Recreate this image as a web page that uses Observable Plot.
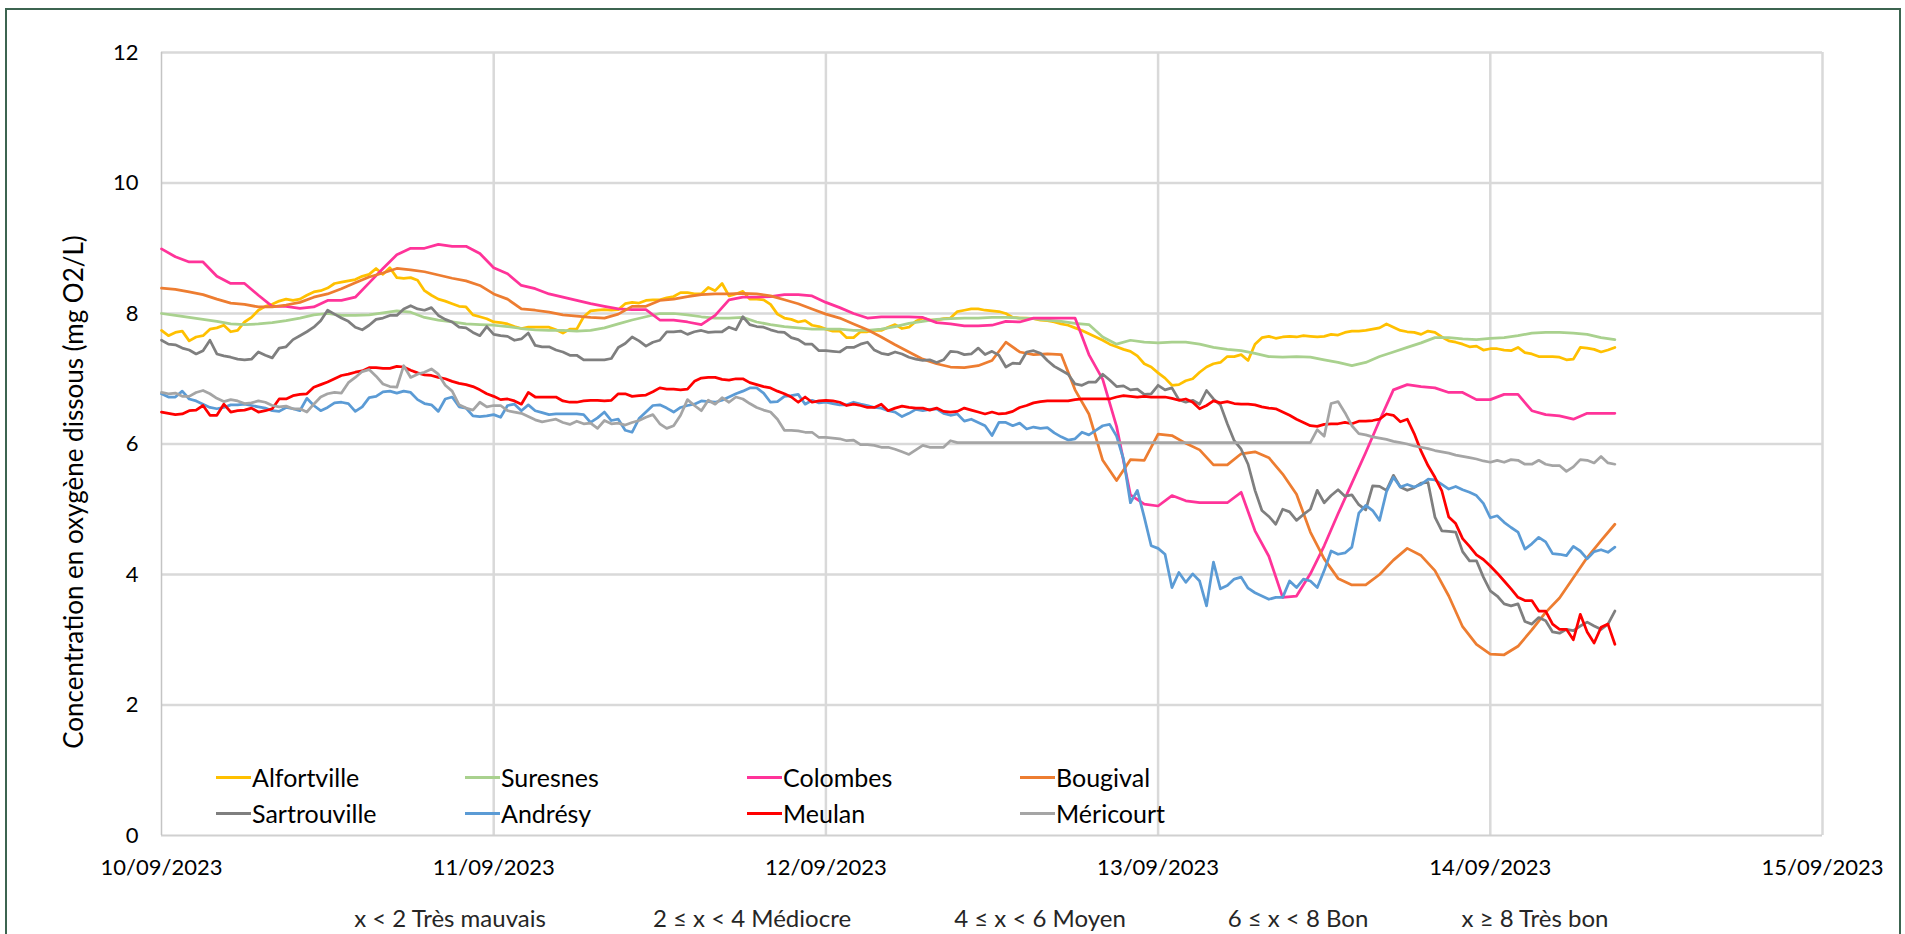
<!DOCTYPE html>
<html><head><meta charset="utf-8">
<script src="https://cdn.jsdelivr.net/npm/d3@7"></script>
<script src="https://cdn.jsdelivr.net/npm/@observablehq/plot@0.6"></script>
<style>
html,body{margin:0;padding:0;background:#fff;overflow:hidden}
#wrap{position:relative;width:1905px;height:934px;font-family:Lato,sans-serif;color:#000}
#frame{position:absolute;left:5px;top:8px;width:1896px;height:1000px;border:2px solid #3c6450;box-sizing:border-box}
#chart{position:absolute;left:0;top:0}
.ytitle{position:absolute;left:73px;top:492px;transform:translate(-50%,-50%) rotate(-90deg);white-space:nowrap;font-size:26px}
.leg{position:absolute;display:flex;align-items:center;font-size:25px;transform:translateY(-50%);white-space:nowrap}
.leg .sw{width:35px;height:3px;margin-right:1px}
.q{position:absolute;transform:translate(-50%,-50%);font-size:24px;color:#262626;white-space:nowrap}
</style></head><body>
<div id="wrap"><div id="frame"></div><div id="chart"></div></div>
<script>
// time axis: hours after 10/09/2023 00:00 (hourly readings, plus half-hour readings for the noisiest stations)
const hours = d3.range(0, 106);
const halfHours = d3.range(0, 105).map(h => h + 0.5);
const names = ["Alfortville","Suresnes","Colombes","Bougival","Sartrouville","Andrésy","Meulan","Méricourt"];
const colors = ["#FFC000","#A9D18E","#FF3399","#ED7D31","#7F7F7F","#5B9BD5","#FF0000","#A5A5A5"];
const yTicks = [0,2,4,6,8,10,12];
const xTickLabels = ["10/09/2023","11/09/2023","12/09/2023","13/09/2023","14/09/2023","15/09/2023"];
const qualityLabels = ["x < 2 Très mauvais","2 ≤ x < 4 Médiocre","4 ≤ x < 6 Moyen","6 ≤ x < 8 Bon","x ≥ 8 Très bon"];

const alfortville = [7.74,7.71,7.58,7.66,7.78,7.72,7.87,8.05,8.14,8.22,8.22,8.33,8.39,8.48,8.52,8.6,8.6,8.55,8.55,8.35,8.22,8.15,8.1,7.95,7.87,
 7.84,7.77,7.79,7.79,7.7,7.76,8.04,8.06,8.06,8.17,8.2,8.21,8.26,8.32,8.3,8.35,8.27,8.34,8.22,8.14,7.93,7.87,7.82,7.76,
 7.73,7.63,7.72,7.74,7.83,7.79,7.93,7.9,7.93,8.05,8.07,8.04,8.0,7.93,7.92,7.89,7.84,7.78,7.69,7.59,7.49,7.42,7.23,7.09,
 6.9,6.97,7.1,7.23,7.34,7.37,7.53,7.65,7.64,7.64,7.65,7.65,7.67,7.73,7.74,7.78,7.79,7.72,7.68,7.71,7.58,7.53,7.5,7.46,
 7.44,7.48,7.38,7.34,7.33,7.3,7.47,7.41,7.48];
const alfortvilleMid = [7.66,7.73,7.64,7.76,7.82,7.74,7.94,8.11,8.19,8.2,8.28,8.35,8.46,8.5,8.57,8.69,8.7,8.54,8.51,8.28,8.19,8.11,7.98,7.92,
 7.86,7.8,7.79,7.79,7.75,7.76,7.95,8.05,8.05,8.15,8.16,8.21,8.24,8.32,8.3,8.4,8.46,8.3,8.22,8.21,7.99,7.91,7.89,7.8,
 7.73,7.63,7.72,7.74,7.79,7.77,7.88,7.9,7.92,8.03,8.07,8.05,8.03,7.94,7.93,7.9,7.87,7.82,7.74,7.64,7.53,7.45,7.35,7.18,
 7.01,6.91,7.0,7.18,7.25,7.34,7.28,7.63,7.62,7.65,7.66,7.64,7.68,7.71,7.73,7.76,7.84,7.74,7.71,7.73,7.64,7.56,7.49,
 7.44,7.46,7.43,7.4,7.34,7.34,7.29,7.48,7.45,7.44];
const suresnes = [8.0,7.97,7.94,7.91,7.88,7.84,7.83,7.84,7.86,7.89,7.93,7.98,8.0,7.97,7.97,7.98,8.01,8.04,8.02,7.94,7.9,7.87,7.84,7.83,7.82,
 7.8,7.77,7.75,7.74,7.74,7.73,7.74,7.78,7.84,7.9,7.95,8.0,8.0,7.98,7.95,7.93,7.93,7.94,7.87,7.83,7.8,7.78,7.76,7.76,
 7.76,7.74,7.74,7.76,7.8,7.85,7.88,7.91,7.92,7.93,7.93,7.94,7.94,7.93,7.92,7.9,7.88,7.85,7.83,7.64,7.53,7.59,7.56,7.55,
 7.56,7.56,7.53,7.48,7.45,7.43,7.39,7.34,7.33,7.34,7.33,7.29,7.25,7.2,7.25,7.34,7.41,7.48,7.55,7.63,7.63,7.61,7.6,7.62,
 7.63,7.66,7.7,7.71,7.71,7.7,7.68,7.63,7.6];
const colombes = [8.99,8.87,8.79,8.79,8.57,8.46,8.46,8.28,8.11,8.11,8.08,8.1,8.2,8.2,8.25,8.47,8.69,8.9,9.0,9.0,9.06,9.03,9.03,8.92,8.7,
 8.61,8.43,8.38,8.3,8.25,8.2,8.15,8.11,8.07,8.06,8.06,7.9,7.9,7.87,7.83,7.97,8.21,8.25,8.25,8.26,8.29,8.29,8.27,8.17,
 8.09,8.0,7.93,7.95,7.95,7.95,7.94,7.86,7.84,7.81,7.81,7.82,7.88,7.87,7.93,7.93,7.93,7.93,7.37,6.99,6.27,5.22,5.08,5.05,
 5.21,5.13,5.1,5.1,5.1,5.26,4.67,4.28,3.65,3.67,4.01,4.44,4.93,5.4,5.87,6.36,6.83,6.91,6.88,6.86,6.79,6.79,6.68,6.68,
 6.76,6.76,6.51,6.45,6.43,6.38,6.47,6.47,6.47];
const bougival = [8.39,8.37,8.33,8.29,8.22,8.16,8.14,8.1,8.1,8.13,8.17,8.25,8.3,8.38,8.47,8.56,8.62,8.69,8.67,8.64,8.59,8.54,8.5,8.43,8.3,
 8.22,8.07,8.05,8.02,7.98,7.96,7.94,7.93,7.99,8.11,8.11,8.2,8.22,8.26,8.29,8.3,8.3,8.31,8.3,8.27,8.21,8.15,8.07,7.99,
 7.93,7.84,7.75,7.64,7.52,7.41,7.3,7.23,7.18,7.17,7.2,7.28,7.56,7.41,7.37,7.38,7.37,6.83,6.46,5.75,5.44,5.76,5.75,6.15,
 6.13,6.01,5.91,5.68,5.68,5.85,5.88,5.79,5.54,5.23,4.65,4.24,3.94,3.84,3.84,4.0,4.22,4.4,4.29,4.06,3.67,3.2,2.93,2.78,
 2.77,2.9,3.15,3.42,3.64,3.95,4.26,4.52,4.77];
const sartrouville = [7.59,7.52,7.44,7.43,7.38,7.33,7.29,7.41,7.32,7.49,7.66,7.79,8.05,7.93,7.79,7.82,7.93,7.97,8.12,8.05,7.97,7.87,7.78,7.66,7.68,
 7.65,7.61,7.51,7.49,7.41,7.36,7.29,7.29,7.48,7.64,7.5,7.59,7.72,7.68,7.74,7.72,7.79,7.95,7.8,7.75,7.71,7.6,7.53,7.43,
 7.41,7.48,7.56,7.39,7.41,7.33,7.28,7.25,7.42,7.37,7.47,7.42,7.18,7.23,7.43,7.28,7.13,6.92,6.95,7.07,6.88,6.83,6.76,6.9,
 6.86,6.64,6.61,6.69,6.31,5.92,5.29,4.89,5.0,4.83,5.0,5.1,5.3,5.22,4.99,5.35,5.52,5.29,5.4,4.88,4.66,4.35,4.21,3.75,
 3.55,3.55,3.24,3.29,3.1,3.14,3.27,3.16,3.44];
const sartrouvilleMid = [7.53,7.47,7.38,7.59,7.35,7.3,7.3,7.36,7.47,7.6,7.72,7.89,7.99,7.88,7.75,7.91,7.97,8.07,8.07,8.09,7.91,7.79,7.71,7.8,
 7.66,7.59,7.7,7.49,7.44,7.36,7.29,7.29,7.31,7.54,7.58,7.56,7.72,7.73,7.72,7.71,7.72,7.75,7.83,7.79,7.72,7.63,7.53,7.43,
 7.42,7.48,7.53,7.44,7.37,7.38,7.3,7.29,7.29,7.41,7.38,7.37,7.36,7.24,7.41,7.39,7.19,7.07,6.9,6.95,6.98,6.89,6.84,6.77,
 6.83,6.68,6.67,6.82,6.6,6.05,5.69,4.98,4.77,4.96,4.92,5.29,5.21,5.2,5.07,5.36,5.29,5.34,5.33,5.41,4.67,4.65,4.21,
 3.96,3.67,3.52,3.28,3.34,3.12,3.16,3.21,3.21,3.24];
const andresy = [6.77,6.72,6.69,6.61,6.54,6.6,6.61,6.57,6.51,6.56,6.51,6.59,6.56,6.64,6.5,6.71,6.8,6.78,6.79,6.62,6.5,6.72,6.55,6.42,6.45,
 6.59,6.51,6.51,6.45,6.46,6.46,6.33,6.49,6.38,6.18,6.49,6.6,6.49,6.59,6.66,6.64,6.72,6.81,6.86,6.64,6.73,6.76,6.67,6.64,
 6.6,6.64,6.59,6.55,6.49,6.47,6.51,6.54,6.44,6.35,6.33,6.13,6.33,6.32,6.26,6.25,6.11,6.08,6.14,6.28,6.12,5.1,4.88,4.4,
 3.8,3.88,3.9,4.19,3.83,3.96,3.72,3.62,3.65,3.8,3.9,4.06,4.31,4.42,5.06,4.83,5.49,5.38,5.38,5.45,5.31,5.3,5.21,4.87,
 4.8,4.65,4.47,4.5,4.31,4.43,4.24,4.38,4.42];
const andresyMid = [6.72,6.81,6.66,6.56,6.56,6.6,6.59,6.55,6.5,6.54,6.7,6.51,6.63,6.62,6.57,6.73,6.81,6.81,6.68,6.6,6.69,6.57,6.43,6.43,
 6.41,6.61,6.6,6.48,6.46,6.46,6.45,6.4,6.36,6.21,6.39,6.59,6.55,6.56,6.61,6.65,6.67,6.77,6.86,6.78,6.65,6.74,6.61,6.63,
 6.62,6.6,6.61,6.56,6.51,6.42,6.53,6.53,6.47,6.46,6.38,6.28,6.33,6.28,6.23,6.24,6.17,6.06,6.18,6.21,6.3,5.77,5.29,4.44,
 4.31,4.03,4.01,3.52,3.78,3.93,3.79,3.67,3.65,3.9,3.93,3.8,4.36,4.33,4.94,4.98,5.27,5.34,5.34,5.46,5.38,5.35,5.26,
 5.09,4.9,4.72,4.39,4.57,4.32,4.29,4.36,4.35,4.34];
const meulan = [6.49,6.45,6.51,6.59,6.44,6.49,6.52,6.49,6.54,6.69,6.76,6.87,6.95,7.05,7.1,7.17,7.16,7.19,7.13,7.06,7.02,6.96,6.91,6.83,6.73,
 6.69,6.61,6.72,6.72,6.66,6.64,6.67,6.66,6.77,6.73,6.75,6.86,6.84,6.84,7.01,7.02,6.98,7.0,6.91,6.86,6.77,6.64,6.64,6.67,
 6.64,6.61,6.56,6.61,6.55,6.56,6.55,6.55,6.49,6.55,6.49,6.49,6.47,6.56,6.63,6.66,6.66,6.68,6.69,6.69,6.72,6.73,6.73,6.72,
 6.7,6.69,6.54,6.66,6.65,6.61,6.6,6.55,6.49,6.38,6.28,6.3,6.31,6.31,6.35,6.38,6.44,6.38,5.89,5.49,4.88,4.55,4.3,4.13,
 3.9,3.65,3.6,3.44,3.16,3.0,3.12,3.19,2.93];
const meulanMid = [6.47,6.46,6.52,6.44,6.61,6.51,6.55,6.51,6.69,6.74,6.77,6.91,7.0,7.07,7.12,7.17,7.16,7.18,7.09,7.05,7.0,6.93,6.88,6.77,
 6.68,6.66,6.79,6.72,6.72,6.64,6.66,6.67,6.67,6.77,6.74,6.8,6.84,6.83,6.96,7.02,6.99,7.0,6.94,6.88,6.81,6.72,6.72,6.66,
 6.66,6.59,6.59,6.56,6.51,6.58,6.55,6.52,6.5,6.5,6.52,6.46,6.46,6.5,6.59,6.65,6.66,6.66,6.69,6.69,6.69,6.74,6.72,6.72,
 6.72,6.67,6.64,6.59,6.63,6.62,6.61,6.57,6.54,6.44,6.33,6.27,6.31,6.33,6.35,6.36,6.46,6.34,6.16,5.67,5.28,4.78,4.43,
 4.23,4.02,3.78,3.6,3.44,3.24,3.16,3.39,2.95,3.24];
const mericourt = [6.79,6.78,6.73,6.82,6.7,6.68,6.62,6.66,6.59,6.58,6.54,6.61,6.77,6.78,7.02,7.14,6.92,6.87,7.02,7.1,7.07,6.81,6.55,6.64,6.59,
 6.51,6.47,6.37,6.36,6.33,6.35,6.32,6.36,6.32,6.33,6.41,6.31,6.28,6.68,6.51,6.61,6.64,6.69,6.56,6.49,6.21,6.2,6.18,6.1,
 6.08,6.06,5.99,5.95,5.92,5.84,5.98,5.95,6.05,6.02,6.02,6.02,6.02,6.02,6.02,6.02,6.02,6.02,6.02,6.02,6.02,6.02,6.02,6.02,
 6.02,6.02,6.02,6.02,6.02,6.02,6.02,6.02,6.02,6.02,6.02,6.12,6.65,6.28,6.14,6.09,6.04,6.0,5.95,5.9,5.86,5.81,5.77,5.72,
 5.72,5.75,5.69,5.69,5.67,5.65,5.75,5.81,5.69];
const mericourtMid = [6.77,6.73,6.79,6.77,6.65,6.66,6.63,6.64,6.57,6.54,6.49,6.72,6.79,6.94,7.11,7.04,6.88,7.2,7.07,7.15,6.9,6.6,6.52,6.57,
 6.59,6.49,6.42,6.34,6.38,6.3,6.31,6.24,6.31,6.29,6.36,6.45,6.24,6.44,6.59,6.67,6.71,6.72,6.62,6.52,6.38,6.21,6.18,6.1,
 6.09,6.05,5.99,5.98,5.95,5.88,5.91,5.95,5.95,6.02,6.02,6.02,6.02,6.02,6.02,6.02,6.02,6.02,6.02,6.02,6.02,6.02,6.02,6.02,
 6.02,6.02,6.02,6.02,6.02,6.02,6.02,6.02,6.02,6.02,6.02,6.22,6.62,6.48,6.16,6.11,6.07,6.02,5.97,5.93,5.88,5.83,5.79,
 5.74,5.75,5.76,5.69,5.75,5.67,5.58,5.76,5.71,5.71];

const series = [alfortville, suresnes, colombes, bougival, sartrouville, andresy, meulan, mericourt];
const midSeries = [alfortvilleMid, null, null, null, sartrouvilleMid, andresyMid, meulanMid, mericourtMid];
const parseDay = d3.utcParse("%d/%m/%Y");
const xTicks = xTickLabels.map(parseDay);
const t0 = xTicks[0];
const rows = names.flatMap((n, i) => {
  const pts = series[i].map((v, j) => ({t: hours[j], v}));
  if (midSeries[i]) midSeries[i].forEach((v, j) => pts.push({t: halfHours[j], v}));
  pts.sort((a, b) => a.t - b.t);
  return pts.map(p => ({date: new Date(+t0 + p.t * 3600e3), value: p.v, name: n}));
});

const chart = Plot.plot({
  width: 1905, height: 934,
  marginLeft: 161, marginRight: 83, marginTop: 52, marginBottom: 99,
  style: {fontFamily: "Lato, sans-serif", fontSize: "22px", color: "#000", background: "transparent", overflow: "visible"},
  x: {type: "utc", domain: [xTicks[0], xTicks[xTicks.length - 1]], label: null},
  y: {domain: [0, 12], label: null},
  color: {domain: names, range: colors},
  marks: [
    Plot.gridY(yTicks.slice(1), {stroke: "#d9d9d9", strokeOpacity: 1, strokeWidth: 2.5}),
    Plot.gridX(xTicks.slice(1), {stroke: "#d9d9d9", strokeOpacity: 1, strokeWidth: 2.5}),
    Plot.ruleY([0], {stroke: "#d0d0d0", strokeWidth: 2}),
    Plot.ruleX([xTicks[0]], {stroke: "#c4c4c4", strokeWidth: 1.5}),
    Plot.axisY(yTicks, {tickSize: 0, tickPadding: 23, tickFormat: d => String(d)}),
    Plot.axisX(xTicks, {tickSize: 0, tickPadding: 24, tickFormat: d => xTickLabels[xTicks.findIndex(t => +t === +d)]}),
    Plot.line(rows, {x: "date", y: "value", z: "name", stroke: "name", strokeWidth: 2.75, strokeLinejoin: "round", strokeLinecap: "round"})
  ]
});
document.getElementById("chart").appendChild(chart);

const wrap = document.getElementById("wrap");
const yt = document.createElement("div");
yt.className = "ytitle";
yt.textContent = "Concentration en oxygène dissous (mg O2/L)";
wrap.appendChild(yt);

const legCols = [216, 465, 747, 1020];
names.forEach((n, i) => {
  const d = document.createElement("div");
  d.className = "leg";
  d.style.left = legCols[i % 4] + "px";
  d.style.top = (777 + Math.floor(i / 4) * 36) + "px";
  const sw = document.createElement("span");
  sw.className = "sw";
  sw.style.background = colors[i];
  d.appendChild(sw);
  d.appendChild(document.createTextNode(n));
  wrap.appendChild(d);
});

const qx = [450, 752, 1040, 1298, 1535];
qualityLabels.forEach((t, i) => {
  const d = document.createElement("div");
  d.className = "q";
  d.style.left = qx[i] + "px";
  d.style.top = "917px";
  d.textContent = t;
  wrap.appendChild(d);
});
</script>
</body></html>
